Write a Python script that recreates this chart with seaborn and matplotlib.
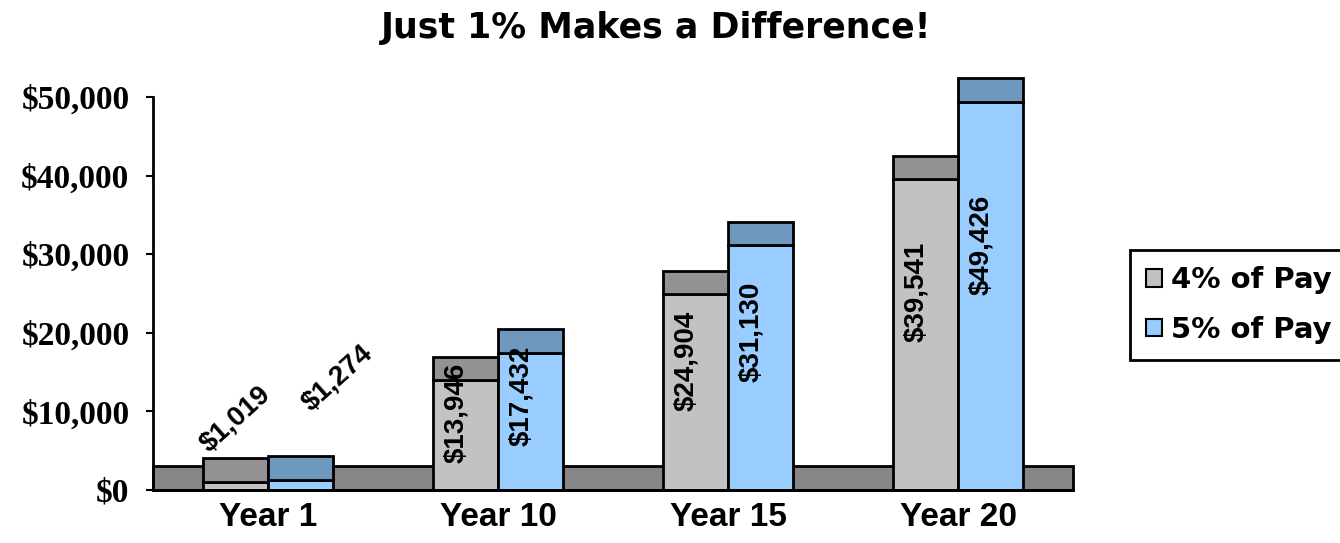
import matplotlib
matplotlib.use("Agg")
import matplotlib.pyplot as plt
import seaborn as sns
import pandas as pd
from matplotlib.patches import Patch

# chart data
years = ["Year 1", "Year 10", "Year 15", "Year 20"]
plans = ["4% of Pay", "5% of Pay"]
pay4 = [1019, 13946, 24904, 39541]
pay5 = [1274, 17432, 31130, 49426]

front_colors = ["#c4c1c4", "#99ccff"]
top_colors = ["#939193", "#6f98bf"]
floor_color = "#878587"
depth = 3000  # fake 3d depth of bar tops and floor

df = pd.DataFrame({
    "year": years * 2,
    "plan": [plans[0]] * 4 + [plans[1]] * 4,
    "value": pay4 + pay5,
})

sns.set_style("white")
plt.rcParams["font.family"] = ["Liberation Sans", "DejaVu Sans"]
plt.rcParams["text.color"] = "black"
plt.rcParams["xtick.color"] = "black"
plt.rcParams["ytick.color"] = "black"

fig = plt.figure(figsize=(13.4, 5.43), dpi=100)
ax = fig.add_axes([153 / 1340, 1 - 490 / 543, (1073 - 153) / 1340, (490 - 97) / 543])

# floor band
ax.axhspan(0, depth, facecolor=floor_color, edgecolor="black", lw=2, zorder=0.5, clip_on=False)

sns.barplot(data=df, x="year", y="value", hue="plan", order=years, hue_order=plans,
            palette=front_colors, saturation=1, width=0.567, edgecolor="black",
            linewidth=2, legend=False, ax=ax, zorder=2)

# draw the darker top faces and the value labels
containers = list(ax.containers)
for i, cont in enumerate(containers):
    for bar in cont:
        bar.set_clip_on(False)
        x = bar.get_x()
        w = bar.get_width()
        h = bar.get_height()
        ax.bar(x + w / 2, depth, width=w, bottom=h, color=top_colors[i],
               edgecolor="black", linewidth=2, zorder=2, clip_on=False)
        cx = x + w / 2
        label = f"${h:,.0f}"
        if h < 5000:
            ax.text(cx + [0.0, 0.16][i], h + [8000, 13000][i], label, rotation=42,
                    ha="center", va="center", fontsize=20, fontweight="bold", zorder=5)
        else:
            ax.text(cx - 0.04, 0.6 * h + 1500, label, rotation=90,
                    ha="center", va="center", fontsize=20, fontweight="bold", zorder=5)

ax.set_xlim(-0.5, 3.5)
ax.set_ylim(0, 50000)
ax.set_yticks(range(0, 50001, 10000))
ax.set_yticklabels([f"${v:,.0f}" for v in range(0, 50001, 10000)],
                   fontfamily="Liberation Serif", fontweight="bold", fontsize=24)
ax.set_xticks(range(len(years)))
ax.set_xticklabels(years, fontweight="bold", fontsize=24)
ax.set_xticks([0.5, 1.5, 2.5], minor=True)
ax.tick_params(axis="x", which="major", length=0, pad=9)
ax.tick_params(axis="x", which="minor", length=5, width=1.5, direction="out", color="black")
ax.tick_params(axis="y", length=5, width=1.5, direction="out", color="black", pad=12, left=True)
ax.set_xlabel("")
ax.set_ylabel("")
ax.grid(False)

for side in ["top", "right"]:
    ax.spines[side].set_visible(False)
ax.spines["left"].set_color("black")
ax.spines["left"].set_linewidth(2)
ax.spines["bottom"].set_color("black")
ax.spines["bottom"].set_linewidth(2)

fig.text(0.49, 0.948, "Just 1% Makes a Difference!", ha="center", va="center",
         fontsize=25, fontweight="bold", fontfamily="DejaVu Sans")

handles = [Patch(facecolor=c, edgecolor="black", linewidth=1.5) for c in front_colors]
leg = fig.legend(handles, plans, loc="upper left", bbox_to_anchor=(1130 / 1340, 1 - 250 / 543),
                 frameon=True, fancybox=False, edgecolor="black", framealpha=1,
                 prop={"family": "DejaVu Sans", "weight": "bold", "size": 21},
                 handlelength=0.55, handleheight=0.55, handletextpad=0.3,
                 labelspacing=0.75, borderpad=0.55, borderaxespad=0)
leg.get_frame().set_linewidth(2)

fig.savefig("out.png", dpi=100, facecolor="white")
